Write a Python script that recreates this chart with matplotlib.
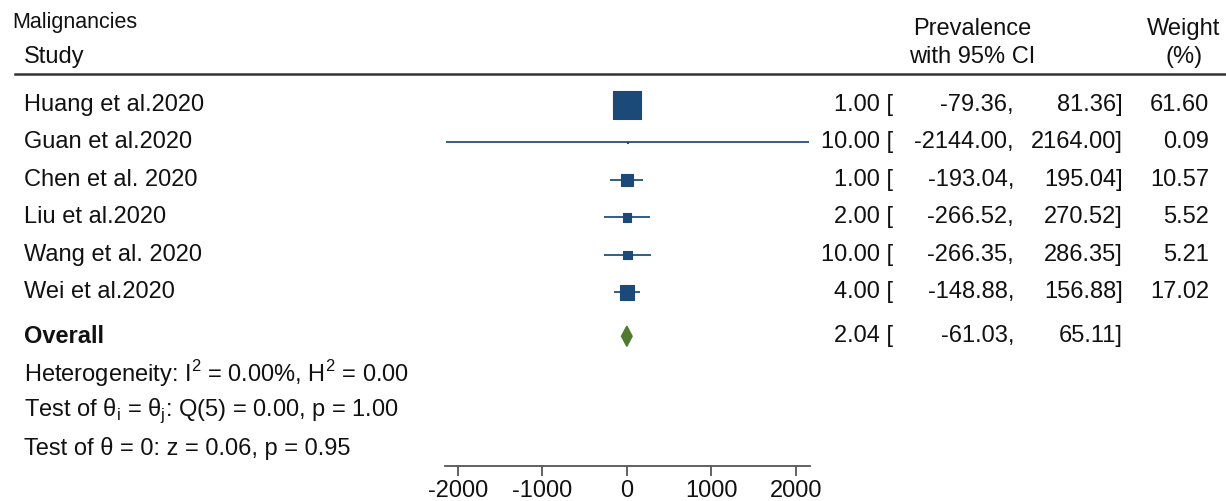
import matplotlib
matplotlib.use('Agg')
import matplotlib.pyplot as plt
import matplotlib.transforms as mtransforms

plt.rcParams['font.family'] = ['Liberation Sans', 'DejaVu Sans']
plt.rcParams['mathtext.fontset'] = 'custom'
plt.rcParams['mathtext.rm'] = 'Liberation Sans'
plt.rcParams['axes.unicode_minus'] = False

# study data
studies = ['Huang et al.2020', 'Guan et al.2020', 'Chen et al. 2020',
           'Liu et al.2020', 'Wang et al. 2020', 'Wei et al.2020']
est = [1.00, 10.00, 1.00, 2.00, 10.00, 4.00]
lower = [-79.36, -2144.00, -193.04, -266.52, -266.35, -148.88]
upper = [81.36, 2164.00, 195.04, 270.52, 286.35, 156.88]
weight = [61.60, 0.09, 10.57, 5.52, 5.21, 17.02]

overall_est = 2.04
overall_lo = -61.03
overall_hi = 65.11

stats_lines = [r'Heterogeneity: I$^\mathrm{2}$ = 0.00%, H$^\mathrm{2}$ = 0.00',
               r'Test of θ$_\mathrm{i}$ = θ$_\mathrm{j}$: Q(5) = 0.00, p = 1.00',
               'Test of θ = 0: z = 0.06, p = 0.95']
xticks = [-2000, -1000, 0, 1000, 2000]

W, H = 1226, 501
fig = plt.figure(figsize=(W / 100, H / 100), dpi=100)
ax = fig.add_axes([445 / W, (H - 466) / H, 365 / W, 466 / H])
ax.set_xlim(-2150, 2170)
ax.set_ylim(9.65, -2.81)

sq_color = '#1c4a78'
ln_color = '#2f5d8a'
fs = 17

rows = list(range(len(studies)))
y_overall = 6.18
y_stats = [7.19, 8.18, 9.17]

# CI lines and weight squares
for y, lo, hi in zip(rows, lower, upper):
    ax.plot([lo, hi], [y, y], color=ln_color, lw=1.4, solid_capstyle='butt', clip_on=False)
ax.scatter(est, rows, marker='s', s=[6.8 * w for w in weight], color=sq_color,
           edgecolor=sq_color, linewidth=0.8, zorder=3, clip_on=False)

# overall diamond
ax.fill([overall_lo, overall_est, overall_hi, overall_est],
        [y_overall, y_overall - 0.27, y_overall, y_overall + 0.27],
        color='#4f7a30', zorder=3, clip_on=False)

# axis styling
for s in ['top', 'right', 'left']:
    ax.spines[s].set_visible(False)
ax.spines['bottom'].set_color('#555555')
ax.spines['bottom'].set_linewidth(1.3)
ax.set_yticks([])
ax.set_xticks(xticks)
ax.tick_params(axis='x', direction='out', length=7, width=1.3, color='#555555',
               labelsize=fs, pad=3, labelcolor='#111111')

# text columns
tr = mtransforms.blended_transform_factory(fig.transFigure, ax.transData)
tc = '#111111'

def put(xpx, y, s, **kw):
    kw.setdefault('fontsize', fs)
    kw.setdefault('va', 'center')
    kw.setdefault('color', tc)
    ax.text(xpx / W, y, s, transform=tr, clip_on=False, **kw)

put(12, -2.22, 'Malignancies', fontsize=15.5)
put(24, -1.28, 'Study')
put(972, -2.04, 'Prevalence', ha='center')
put(972, -1.28, 'with 95% CI', ha='center')
put(1184, -2.04, 'Weight', ha='center')
put(1184, -1.28, '(%)', ha='center')

ax.plot([15 / W, 1.0], [-0.83, -0.83], transform=tr, color='#333333', lw=1.8, clip_on=False)

for y, name, e, lo, hi, w in zip(rows, studies, est, lower, upper, weight):
    put(24, y, name)
    put(893, y, '%.2f [' % e, ha='right')
    put(1014, y, '%.2f,' % lo, ha='right')
    put(1123, y, '%.2f]' % hi, ha='right')
    put(1209, y, '%.2f' % w, ha='right')

put(24, y_overall, 'Overall', fontweight='bold')
put(893, y_overall, '%.2f [' % overall_est, ha='right')
put(1014, y_overall, '%.2f,' % overall_lo, ha='right')
put(1123, y_overall, '%.2f]' % overall_hi, ha='right')

for y, s in zip(y_stats, stats_lines):
    put(24, y, s)

fig.savefig('out.png', dpi=100)
